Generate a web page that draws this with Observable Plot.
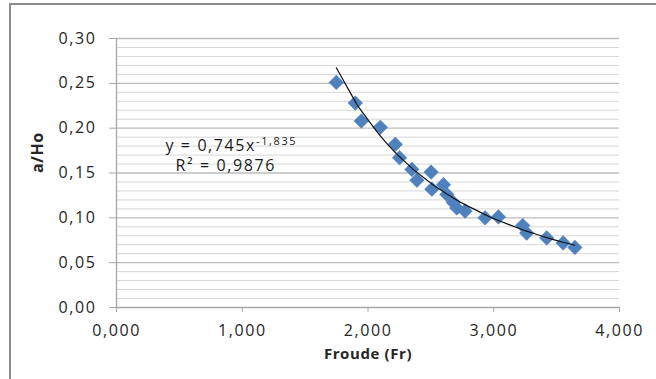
<!DOCTYPE html>
<html>
<head>
<meta charset="utf-8">
<script src="https://cdn.jsdelivr.net/npm/d3@7"></script>
<script src="https://cdn.jsdelivr.net/npm/@observablehq/plot@0.6"></script>
<style>
  html, body { margin: 0; padding: 0; background: #fff; }
  #wrap { position: relative; width: 656px; height: 379px; overflow: hidden; }
  #frame { position: absolute; left: 9px; top: 3px; width: 700px; height: 400px;
           border-left: 2px solid #8c8c8c; border-top: 2px solid #8c8c8c; pointer-events: none; }
  svg text { letter-spacing: 1.6px; }
  svg text.title { letter-spacing: 0.6px; }
</style>
</head>
<body>
<div id="wrap"><div id="frame"></div></div>
<script>
// Data (Froude number vs a/Ho)
const froude = [1.748, 1.899, 1.947, 2.098, 2.217, 2.251, 2.349, 2.389, 2.502, 2.508, 2.600, 2.627, 2.679, 2.706, 2.772, 2.931, 3.037, 3.230, 3.262, 3.421, 3.552, 3.645];
const aHo    = [0.251, 0.228, 0.208, 0.201, 0.182, 0.167, 0.154, 0.142, 0.151, 0.132, 0.137, 0.126, 0.117, 0.111, 0.1075, 0.100, 0.101, 0.0915, 0.083, 0.0776, 0.072, 0.067];

// Power trendline reported on the chart: y = 0,745 x^-1,835 ; R² = 0,9876
const fitA = 0.745;
const fitB = -1.835;
const eqLabel = "y = 0,745x";
const eqExponent = "-1,835";
const r2Label = "R² = 0,9876";

const xTicks = [0, 1, 2, 3, 4];
const yTicks = [0, 0.05, 0.10, 0.15, 0.20, 0.25, 0.30];
const yMinor = [0.01, 0.02, 0.03, 0.04, 0.06, 0.07, 0.08, 0.09, 0.11, 0.12, 0.13, 0.14, 0.16, 0.17, 0.18, 0.19, 0.21, 0.22, 0.23, 0.24, 0.26, 0.27, 0.28, 0.29];
const xTitle = "Froude (Fr)";
const yTitle = "a/Ho";

const points = froude.map((x, i) => ({x, y: aHo[i]}));
const fitXs = [...froude].sort((a, b) => a - b);
const fit = fitXs.map(x => ({x, y: fitA * Math.pow(x, fitB)}));

const fmtX = d => d.toFixed(3).replace(".", ",");
const fmtY = d => d.toFixed(2).replace(".", ",");

const chart = Plot.plot({
  width: 656,
  height: 379,
  marginLeft: 116,
  marginRight: 37,
  marginTop: 38,
  marginBottom: 72,
  style: {fontFamily: "'Open Sans', sans-serif", fontSize: "16px", color: "#262626", background: "#fff"},
  x: {domain: [0, 4]},
  y: {domain: [0, 0.30]},
  marks: [
    Plot.ruleY(yMinor, {stroke: "#d6d6d6", strokeWidth: 1}),
    Plot.ruleY(yTicks.filter(d => d > 0), {stroke: "#bcbcbc", strokeWidth: 1.4}),
    Plot.ruleX([0], {stroke: "#a6a6a6", strokeWidth: 1.3}),
    Plot.ruleY([0], {stroke: "#a6a6a6", strokeWidth: 1.3}),
    Plot.axisY({ticks: yTicks, tickFormat: fmtY, tickSize: 7, tickPadding: 13, label: null, stroke: "#a6a6a6", fill: "#262626"}),
    Plot.axisX({ticks: xTicks, tickFormat: fmtX, tickSize: 5, tickPadding: 12, label: null, stroke: "#a6a6a6", fill: "#262626"}),
    Plot.dot(points, {x: "x", y: "y", symbol: "diamond2", r: 6.6, fill: "#4F81BD", stroke: "#4F81BD", strokeWidth: 0.5}),
    Plot.line(fit, {x: "x", y: "y", stroke: "#111", strokeWidth: 1.2, curve: "natural"}),
    Plot.text([eqLabel], {frameAnchor: "top-left", dx: 49, dy: 101, textAnchor: "start", fill: "#1a1a1a", fontSize: 16}),
    Plot.text([r2Label], {frameAnchor: "top-left", dx: 59, dy: 121, textAnchor: "start", fill: "#1a1a1a", fontSize: 16}),
    Plot.text([xTitle], {frameAnchor: "bottom", dy: 51, fontWeight: "bold", fill: "#262626", fontSize: 15}),
    Plot.text([yTitle], {frameAnchor: "left", dx: -79, rotate: -90, fontWeight: "bold", fill: "#262626", fontSize: 16})
  ]
});

chart.querySelectorAll("text").forEach(t => {
  if (t.textContent === xTitle || t.textContent === yTitle) t.classList.add("title");
});

// superscript exponent on the equation
chart.querySelectorAll("text").forEach(t => {
  if (t.textContent === eqLabel) {
    const ts = document.createElementNS("http://www.w3.org/2000/svg", "tspan");
    ts.setAttribute("dy", "-0.5em");
    ts.setAttribute("font-size", "11");
    ts.textContent = eqExponent;
    const target = t.querySelector("tspan") || t;
    if (target === t) t.appendChild(ts); else target.parentNode.appendChild(ts);
  }
});

document.getElementById("wrap").prepend(chart);
</script>
</body>
</html>
